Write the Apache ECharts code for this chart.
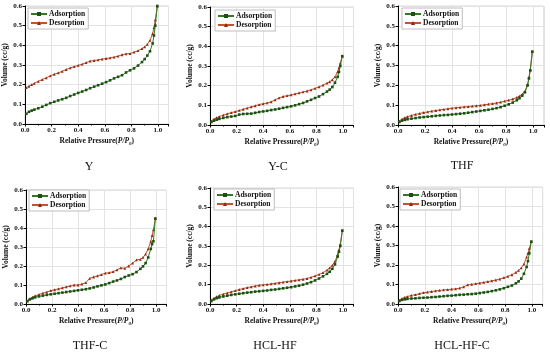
<!DOCTYPE html>
<html><head><meta charset="utf-8">
<script src="https://cdn.jsdelivr.net/npm/echarts@6/dist/echarts.min.js"></script>
<style>html,body{margin:0;padding:0;background:#fff}#c{width:550px;height:354px}</style>
</head><body><div id="c"></div>
<script>
// Relative pressure sample points (P/P0)
const P = [0.01,0.03,0.05,0.07,0.1,0.13,0.16,0.19,0.22,0.25,0.28,0.31,0.34,0.37,0.4,0.43,0.46,0.49,0.52,0.55,0.58,0.61,0.64,0.67,0.7,0.73,0.76,0.79,0.82,0.85,0.88,0.9,0.92,0.94,0.96,0.97,0.98,0.995];

const titles = ['Y','Y-C','THF','THF-C','HCL-HF','HCL-HF-C'];
const xTicks = [0.0,0.2,0.4,0.6,0.8,1.0];
const yTicks = [0.0,0.1,0.2,0.3,0.4,0.5,0.6];

const Y_ads = [0.052,0.062,0.068,0.073,0.08,0.088,0.097,0.106,0.113,0.12,0.126,0.133,0.142,0.15,0.158,0.165,0.173,0.182,0.19,0.197,0.205,0.213,0.222,0.232,0.24,0.248,0.262,0.273,0.283,0.297,0.315,0.33,0.348,0.37,0.41,0.45,0.5,0.6];
const Y_des = [0.185,0.192,0.2,0.207,0.217,0.226,0.235,0.245,0.253,0.26,0.268,0.277,0.285,0.292,0.298,0.304,0.312,0.32,0.323,0.326,0.33,0.333,0.336,0.34,0.345,0.352,0.357,0.358,0.365,0.373,0.383,0.392,0.405,0.425,0.46,0.49,0.53,0.6];

const YC_ads = [0.015,0.022,0.027,0.031,0.036,0.04,0.043,0.046,0.053,0.056,0.057,0.058,0.062,0.066,0.069,0.072,0.076,0.079,0.083,0.087,0.091,0.095,0.1,0.106,0.112,0.12,0.128,0.137,0.145,0.157,0.17,0.18,0.193,0.215,0.245,0.27,0.3,0.35];
const YC_des = [0.02,0.03,0.037,0.043,0.05,0.057,0.063,0.068,0.074,0.08,0.086,0.092,0.098,0.104,0.108,0.112,0.118,0.128,0.138,0.145,0.149,0.153,0.158,0.163,0.168,0.173,0.179,0.186,0.194,0.203,0.213,0.22,0.23,0.245,0.27,0.29,0.315,0.35];

const THF_ads = [0.015,0.022,0.026,0.029,0.032,0.035,0.038,0.04,0.042,0.044,0.046,0.048,0.05,0.051,0.053,0.055,0.057,0.059,0.062,0.065,0.068,0.071,0.074,0.077,0.081,0.085,0.09,0.097,0.104,0.113,0.125,0.135,0.148,0.165,0.2,0.235,0.275,0.37];
const THF_des = [0.02,0.03,0.037,0.042,0.048,0.054,0.058,0.063,0.066,0.07,0.073,0.076,0.079,0.082,0.085,0.087,0.089,0.091,0.093,0.095,0.097,0.099,0.102,0.105,0.108,0.111,0.115,0.12,0.125,0.131,0.139,0.146,0.155,0.17,0.205,0.24,0.28,0.37];

const THFC_ads = [0.015,0.024,0.03,0.035,0.04,0.044,0.048,0.051,0.054,0.057,0.06,0.063,0.066,0.069,0.072,0.075,0.078,0.082,0.087,0.093,0.098,0.103,0.11,0.118,0.124,0.132,0.142,0.15,0.157,0.168,0.185,0.198,0.215,0.245,0.29,0.315,0.33,0.45];
const THFC_des = [0.016,0.028,0.036,0.043,0.05,0.057,0.063,0.07,0.075,0.08,0.085,0.09,0.095,0.1,0.1,0.105,0.112,0.135,0.142,0.148,0.155,0.162,0.165,0.17,0.18,0.19,0.188,0.2,0.215,0.232,0.235,0.245,0.262,0.29,0.33,0.36,0.39,0.45];

const HH_ads = [0.015,0.024,0.03,0.034,0.039,0.043,0.047,0.05,0.053,0.056,0.059,0.061,0.064,0.066,0.068,0.07,0.073,0.075,0.078,0.081,0.084,0.087,0.091,0.095,0.1,0.106,0.113,0.122,0.132,0.143,0.156,0.167,0.182,0.205,0.245,0.27,0.3,0.38];
const HH_des = [0.02,0.03,0.038,0.044,0.051,0.057,0.063,0.069,0.075,0.08,0.085,0.089,0.093,0.097,0.099,0.101,0.104,0.107,0.11,0.113,0.116,0.119,0.122,0.125,0.128,0.132,0.138,0.145,0.153,0.162,0.175,0.187,0.2,0.22,0.255,0.28,0.31,0.38];

const HHC_ads = [0.015,0.021,0.024,0.026,0.028,0.029,0.031,0.032,0.033,0.035,0.036,0.038,0.04,0.042,0.043,0.045,0.047,0.048,0.05,0.051,0.053,0.056,0.059,0.062,0.066,0.07,0.075,0.081,0.088,0.095,0.106,0.116,0.13,0.155,0.19,0.22,0.26,0.32];
const HHC_des = [0.02,0.028,0.034,0.038,0.044,0.048,0.053,0.058,0.061,0.064,0.067,0.07,0.072,0.074,0.076,0.078,0.081,0.088,0.098,0.101,0.104,0.107,0.111,0.115,0.119,0.123,0.128,0.135,0.142,0.15,0.162,0.172,0.185,0.205,0.24,0.26,0.285,0.32];

const ADS = [Y_ads, YC_ads, THF_ads, THFC_ads, HH_ads, HHC_ads];
const DES = [Y_des, YC_des, THF_des, THFC_des, HH_des, HHC_des];

// layout (pixels)
const grids = [
  {left:25, top:6, width:143.6, height:118},
  {left:210, top:7, width:143.6, height:118},
  {left:398, top:6, width:145.8, height:119},
  {left:26, top:190, width:140.4, height:114},
  {left:210, top:188, width:143.6, height:116},
  {left:398, top:187, width:144.7, height:117}
];
const legendPos = [[28,8],[215,10],[402,8],[29,190],[214,189],[400,189]];
const captionPos = [[89,167],[278,167],[462,166],[90,346],[275,346],[462,346]];

const SERIF = '"Liberation Serif","Times New Roman",serif';
const GREEN = '#2f7a22', GREEN_M = '#1d4f12';
const RED = '#c4522f', RED_M = '#8a2b12';

const option = {
  backgroundColor:'#fff',
  animation:false,
  grid: grids.map(g => Object.assign({show:true, borderColor:'#d9d9d9', borderWidth:1, backgroundColor:'transparent'}, g)),
  xAxis: grids.map((g,i) => ({
    gridIndex:i, type:'value', min:0, max:1.08, interval:0.2,
    name:'{a|Relative Pressure(}{i|P/P}{s|0}{a|)}',
    nameLocation:'middle', nameGap:13,
    nameTextStyle:{rich:{
      a:{fontFamily:SERIF,fontWeight:'bold',fontSize:7.5,color:'#111'},
      i:{fontFamily:SERIF,fontWeight:'bold',fontStyle:'italic',fontSize:7.5,color:'#111'},
      s:{fontFamily:SERIF,fontWeight:'bold',fontStyle:'italic',fontSize:5,color:'#111',padding:[4,0,0,0]}
    }},
    axisLine:{show:true,onZero:false,lineStyle:{color:'#000',width:1}},
    axisTick:{show:true,length:2.5,lineStyle:{color:'#000'}},
    minorTick:{show:true,splitNumber:2,length:1.5,lineStyle:{color:'#000'}},
    splitLine:{show:true,lineStyle:{color:'#e3e3e3',width:1}},
    axisLabel:{fontFamily:SERIF,fontWeight:'bold',fontSize:7,color:'#111',margin:3,
      formatter:v => xTicks.some(t=>Math.abs(t-v)<1e-6) ? v.toFixed(1) : ''}
  })),
  yAxis: grids.map((g,i) => ({
    gridIndex:i, type:'value', min:0, max:0.6, interval:0.1,
    name:'Volume (cc/g)', nameLocation:'middle', nameGap:13,
    nameTextStyle:{fontFamily:SERIF,fontWeight:'bold',fontSize:7.5,color:'#111'},
    axisLine:{show:true,onZero:false,lineStyle:{color:'#000',width:1}},
    axisTick:{show:true,length:2.5,lineStyle:{color:'#000'}},
    splitLine:{show:true,lineStyle:{color:'#e3e3e3',width:1}},
    axisLabel:{fontFamily:SERIF,fontWeight:'bold',fontSize:7,color:'#111',margin:3,
      formatter:v => yTicks.some(t=>Math.abs(t-v)<1e-6) ? v.toFixed(1) : ''}
  })),
  legend: legendPos.map(p => ({
    left:p[0], top:p[1], orient:'vertical', data:['Adsorption','Desorption'],
    itemWidth:16, itemHeight:5, itemGap:1, padding:[2,3,2,2],
    borderColor:'#bdbdbd', borderWidth:1, backgroundColor:'#fff',
    textStyle:{fontFamily:SERIF,fontWeight:'bold',fontSize:7.5,color:'#111',padding:[0,0,0,-3]}
  })),
  series: [],
  graphic: captionPos.map((p,i) => ({
    type:'text', x:p[0], y:p[1],
    style:{text:titles[i], fontFamily:SERIF, fontSize:12, fill:'#111', textAlign:'center', textVerticalAlign:'middle'}
  }))
};

for (let i=0;i<6;i++){
  option.series.push({
    name:'Adsorption', type:'line', xAxisIndex:i, yAxisIndex:i,
    data:P.map((p,j)=>[p,ADS[i][j]]),
    symbol:'rect', symbolSize:2.6, showAllSymbol:true,
    lineStyle:{color:GREEN,width:1}, itemStyle:{color:GREEN_M}, z:3
  });
  option.series.push({
    name:'Desorption', type:'line', xAxisIndex:i, yAxisIndex:i,
    data:P.map((p,j)=>[p,DES[i][j]]),
    symbol:'triangle', symbolSize:2.8, showAllSymbol:true,
    lineStyle:{color:RED,width:1}, itemStyle:{color:RED_M}, z:2
  });
}

const chart = echarts.init(document.getElementById('c'), null, {renderer:'canvas'});
chart.setOption(option);
</script>
</body></html>
